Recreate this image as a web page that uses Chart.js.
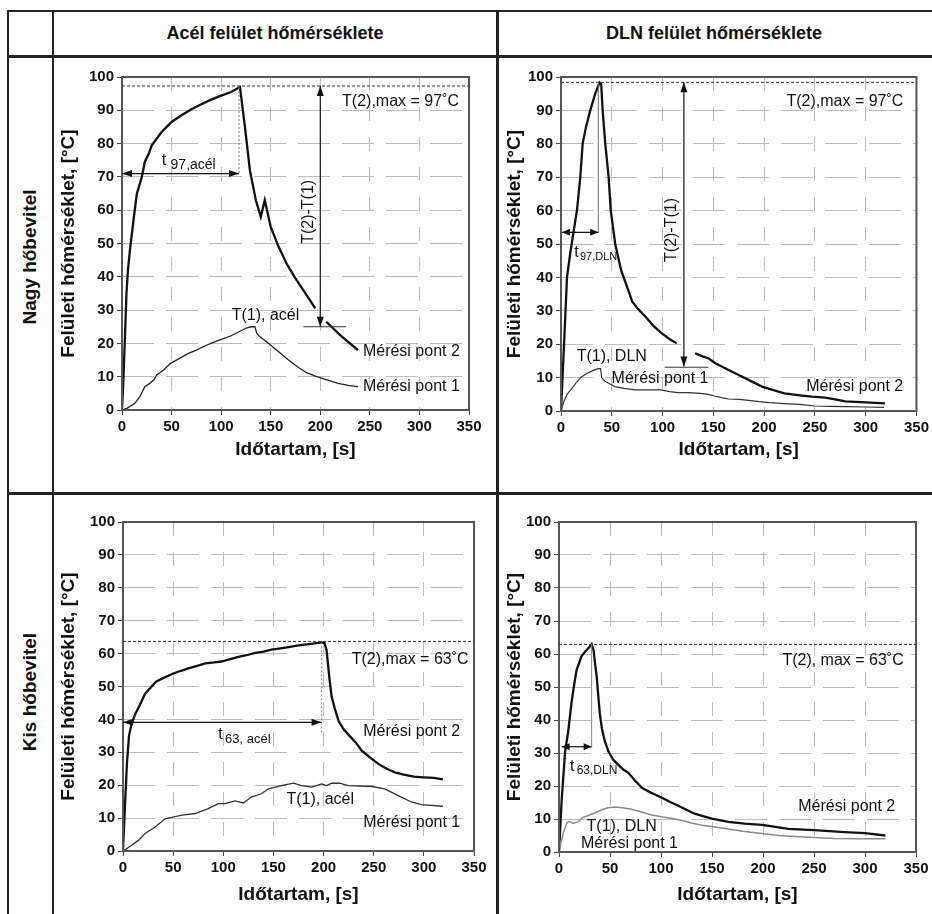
<!DOCTYPE html>
<html><head><meta charset="utf-8">
<script src="https://cdn.jsdelivr.net/npm/chart.js@4.4.1/dist/chart.umd.min.js"></script>
<style>
body{margin:0;background:#fff;}
#wrap{position:relative;width:932px;height:914px;overflow:hidden;font-family:'Liberation Sans',Arial,sans-serif;color:#111;}
.ln{position:absolute;background:#222;}
.hdr{position:absolute;font-weight:bold;font-size:18px;white-space:nowrap;transform:translate(-50%,-50%);}
.side{position:absolute;font-weight:bold;font-size:19px;white-space:nowrap;transform:translate(-50%,-50%) rotate(-90deg);}
canvas{position:absolute;}
</style></head>
<body>
<div id="wrap">
  <div class="ln" style="left:7px;top:10px;width:925px;height:2px"></div>
  <div class="ln" style="left:7px;top:55px;width:925px;height:3px"></div>
  <div class="ln" style="left:7px;top:492px;width:925px;height:3px"></div>
  <div class="ln" style="left:7px;top:10px;width:2px;height:904px"></div>
  <div class="ln" style="left:52px;top:10px;width:2px;height:904px"></div>
  <div class="ln" style="left:496px;top:10px;width:3px;height:904px"></div>
  <div class="hdr" style="left:275px;top:33px">Acél felület hőmérséklete</div>
  <div class="hdr" style="left:714px;top:33px">DLN felület hőmérséklete</div>
  <div class="side" style="left:30px;top:257px">Nagy hőbevitel</div>
  <div class="side" style="left:30px;top:692px">Kis hőbevitel</div>
  <canvas id="c1" width="442" height="435" style="left:55px;top:58px"></canvas>
  <canvas id="c2" width="433" height="435" style="left:499px;top:58px"></canvas>
  <canvas id="c3" width="442" height="418" style="left:55px;top:496px"></canvas>
  <canvas id="c4" width="433" height="418" style="left:499px;top:496px"></canvas>
</div>
<script>
// ---------------- DATA (time [s], temperature [°C]) ----------------
const xTicks = [0, 50, 100, 150, 200, 250, 300, 350];
const yTicks = [0, 10, 20, 30, 40, 50, 60, 70, 80, 90, 100];
const seriesNames = ['Mérési pont 1', 'Mérési pont 2'];

// Acél, Nagy hőbevitel
const acelNagyP2 = [[0,0],[1.5,10],[3,22],[4.5,35],[6,42],[8,48],[10,53],[12,58],[15,65],[20,70],[23,74.5],[27,77],[30,79.5],[40,83.5],[50,86.5],[60,88.5],[70,90.3],[80,91.8],[90,93.2],[100,94.4],[110,95.5],[116,96.5],[119,97],[124,85],[129,72],[135,63],[140,58],[144,63],[150,55],[158,49],[166,44],[174,40],[184,35.5],[195,30.5],[200,null],[206,26.5],[220,22.5],[238,18]];
const acelNagyP1 = [[0,0],[5,0.5],[13,2],[18,4],[23,7],[28,8],[32,9],[35,10.5],[42,12],[49,14],[58,15.5],[67,17],[75,18],[84,19.3],[92,20.3],[101,21.3],[110,22.3],[118,23.5],[126,24.7],[130,25],[134,25],[136,23],[138,22.3],[148,20],[158,17.5],[168,15],[177,13],[186,11.2],[195,10.2],[205,9.2],[218,8],[228,7.4],[238,7]];

// DLN, Nagy hőbevitel
const dlnNagyP2 = [[0,0],[3,20],[5.9,40],[9,47],[12,53],[15.7,60],[19,70],[21.3,80],[24.6,85],[28.8,90],[33.7,95],[38,98.3],[39.6,97.8],[41,90],[43.6,80],[46.9,70],[49,60],[53.4,50],[59.3,42],[66.5,36],[70,32.8],[76,30.5],[83,28.3],[91,25.5],[99,23.3],[107,21.5],[114,20.3],[120,null],[132,17.3],[140,16.3],[145,15.8],[152,14.3],[165,12.3],[178,10.3],[190,8.5],[198,7.3],[210,6.2],[220,5.3],[235,4.7],[247,4.3],[260,4],[270,3.5],[280,2.9],[300,2.6],[319,2.3]];
const dlnNagyP1 = [[0,0],[3,3],[6,5],[10,6.5],[15,8.5],[20,10.2],[27,11.5],[33,12.3],[37,12.7],[39,12.7],[40,10],[43,9],[47,8.3],[53,7.3],[62,6.8],[73,6.3],[85,6.3],[98,6.3],[107,5.8],[115,5.5],[125,5.5],[137,5.3],[145,5],[151,4.5],[158,4],[165,3.6],[175,3.5],[185,3.2],[195,2.8],[205,2.5],[220,2.2],[235,2],[250,1.5],[265,1.4],[280,1.3],[300,1.2],[318,1.1]];

// Acél, Kis hőbevitel
const acelKisP2 = [[0,0],[2,14],[4,27],[6,35],[8,38],[12,41.5],[17,44.5],[22,47.8],[27,49.5],[33,51.5],[39,52.4],[49,53.8],[57,54.7],[65,55.5],[74,56.3],[82,57],[91,57.3],[98,57.6],[107,58.3],[115,59],[123,59.5],[132,60.2],[140,60.6],[148,61.2],[157,61.6],[165,62],[175,62.5],[185,62.9],[193,63.2],[198,63.4],[201,63.2],[203,61],[204,58],[206,52],[208,47],[211,43.5],[215,39.5],[220,37],[225,35.3],[232,33],[238,30.5],[246,28.5],[255,26.4],[263,25],[271,23.9],[280,23.2],[290,22.6],[300,22.4],[310,22.2],[319,21.8]];
const acelKisP1 = [[0,0],[9,1.8],[15.6,3.3],[22,5.3],[32,7.3],[42,9.8],[58.7,10.9],[72,11.4],[85,12.9],[95,14.4],[102,14.4],[112,15.2],[120,14.6],[128,16.4],[138,17.4],[145,18.9],[158,19.9],[170,20.6],[178,19.9],[188,19.4],[198,20.4],[203,19.9],[208,20.6],[216,20.6],[224.6,19.9],[248,19.6],[261,18.9],[274,16.9],[287.6,14.9],[297.6,14.1],[319,13.6]];

// DLN, Kis hőbevitel
const dlnKisP2 = [[0,0],[2.6,15.6],[6,30.5],[9,36.5],[12.4,45.5],[15,51],[17.3,55.2],[20,57.5],[22,59.3],[26,60.8],[30,62.2],[32,63],[34,61],[35.3,57.2],[37,53],[38.6,47],[40,42],[42,37.5],[45,33.5],[48.4,30.5],[53,28],[58,26.5],[63,25],[68,24],[74,21.8],[81,19.5],[90,18],[100,16.6],[108,15.3],[117,14],[125,12.8],[133,11.6],[142,10.8],[150,10.1],[166,9.1],[182,8.6],[199,8.2],[225,7],[250,6.6],[280,6],[300,5.7],[320,5]];
const dlnKisP1 = [[0,0],[4,5.6],[8,9],[10,9.2],[14,8.7],[19,9.2],[23,10.4],[28,11],[35,11.8],[42,12.8],[48,13.4],[55,13.6],[62,13.4],[70,13],[80,12.2],[90,11.3],[100,10.7],[110,10.2],[120,9.6],[130,8.8],[140,8.1],[153,7.6],[166,7],[180,6.3],[199,5.6],[215,5],[231,4.7],[250,4.4],[270,4.1],[295,4],[320,4]];

// ---------------- RENDERING ----------------
const FONT = "'Liberation Sans', Arial, sans-serif";
Chart.defaults.font.family = FONT;
Chart.defaults.color = '#111';

const toXY = arr => arr.map(p => ({x: p[0], y: p[1]}));

function arrowHead(ctx, x, y, ang, len, half) {
  ctx.beginPath();
  ctx.moveTo(x, y);
  ctx.lineTo(x - len * Math.cos(ang) + half * Math.sin(ang), y - len * Math.sin(ang) - half * Math.cos(ang));
  ctx.lineTo(x - len * Math.cos(ang) - half * Math.sin(ang), y - len * Math.sin(ang) + half * Math.cos(ang));
  ctx.closePath();
  ctx.fill();
}

const annotPlugin = {
  id: 'annot',
  afterDraw(chart, args, opts) {
    const {ctx, chartArea: a, scales: {x, y}} = chart;
    const px = v => x.getPixelForValue(v), py = v => y.getPixelForValue(v);
    ctx.save();
    ctx.strokeStyle = '#555'; ctx.lineWidth = 2; ctx.setLineDash([]);
    ctx.strokeRect(a.left, a.top, a.right - a.left, a.bottom - a.top);
    for (const it of (opts.items || [])) {
      ctx.save();
      if (it.t === 'line') {
        ctx.strokeStyle = it.color || '#222'; ctx.lineWidth = it.w || 1; ctx.setLineDash(it.dash || []);
        ctx.beginPath(); ctx.moveTo(px(it.x1), py(it.y1)); ctx.lineTo(px(it.x2), py(it.y2)); ctx.stroke();
      } else if (it.t === 'arrow') {
        const x1 = px(it.x1), y1 = py(it.y1), x2 = px(it.x2), y2 = py(it.y2);
        ctx.strokeStyle = '#111'; ctx.fillStyle = '#111'; ctx.lineWidth = 1.2;
        ctx.beginPath(); ctx.moveTo(x1, y1); ctx.lineTo(x2, y2); ctx.stroke();
        const ang = Math.atan2(y2 - y1, x2 - x1);
        const L = it.len || 10, H = it.half || 3.5;
        arrowHead(ctx, x2, y2, ang, L, H);
        arrowHead(ctx, x1, y1, ang + Math.PI, L, H);
      } else if (it.t === 'text') {
        ctx.fillStyle = it.color || '#111';
        ctx.font = (it.bold ? 'bold ' : '') + (it.size || 16) + 'px ' + FONT;
        ctx.textBaseline = 'middle';
        ctx.textAlign = it.align || 'left';
        ctx.translate(px(it.x), py(it.y));
        if (it.rot) ctx.rotate(it.rot * Math.PI / 180);
        ctx.fillText(it.text, 0, 0);
      }
      ctx.restore();
    }
    ctx.restore();
  }
};

function makeChart(id, rect, plot, yTitleX, xTitleY, sets, items) {
  const tSize = 19;
  const lh = tSize * 1.2;
  const padLeft = yTitleX - rect.l - lh / 2;
  const yW = plot.L - rect.l - padLeft;
  const padTop = plot.T - rect.t;
  const padRight = rect.l + rect.w - plot.R;
  const xH = xTitleY + lh / 2 - plot.B;
  const padBottom = rect.t + rect.h - (xTitleY + lh / 2);
  const tickFont = {size: 15, weight: 'bold'};
  const titleFont = {size: tSize, weight: 'bold', lineHeight: 1.2};
  return new Chart(document.getElementById(id), {
    type: 'line',
    data: {
      datasets: sets.map(s => ({
        label: s.label, data: toXY(s.data), borderColor: s.color, borderWidth: s.width,
        pointRadius: 0, tension: 0, fill: false, spanGaps: false
      }))
    },
    options: {
      responsive: false, animation: false, devicePixelRatio: 1,
      layout: {padding: {left: padLeft, top: padTop, right: padRight, bottom: padBottom}},
      plugins: {legend: {display: false}, tooltip: {enabled: false}, annot: {items}},
      scales: {
        x: {
          type: 'linear', min: xTicks[0], max: xTicks[xTicks.length - 1],
          afterBuildTicks: s => { s.ticks = xTicks.map(v => ({value: v})); },
          afterFit: s => { s.height = xH; },
          ticks: {font: tickFont, color: '#111', padding: 3, maxRotation: 0},
          grid: {color: '#bdbdbd', lineWidth: 1, tickColor: '#444', tickLength: 5},
          border: {display: false, dash: [14, 16]},
          title: {display: true, text: 'Időtartam, [s]', font: titleFont, color: '#111', padding: 0}
        },
        y: {
          type: 'linear', min: yTicks[0], max: yTicks[yTicks.length - 1],
          afterBuildTicks: s => { s.ticks = yTicks.map(v => ({value: v})); },
          afterFit: s => { s.width = yW; },
          ticks: {font: tickFont, color: '#111', padding: 3},
          grid: {color: '#bdbdbd', lineWidth: 1, tickColor: '#444', tickLength: 5},
          border: {display: false, dash: [32, 12]},
          title: {display: true, text: 'Felületi hőmérséklet, [°C]', font: titleFont, color: '#111', padding: 0}
        }
      }
    },
    plugins: [annotPlugin]
  });
}

const dash = {color: '#333', w: 1, dash: [3, 2]};

makeChart('c1', {l: 55, t: 58, w: 442, h: 435}, {L: 122, T: 77, R: 469, B: 410}, 69, 450,
  [{label: seriesNames[0], data: acelNagyP1, color: '#222', width: 1.3},
   {label: seriesNames[1], data: acelNagyP2, color: '#111', width: 2.3}],
  [
    {t: 'line', x1: 0, y1: 97.3, x2: 350, y2: 97.3, ...dash},
    {t: 'line', x1: 118, y1: 97, x2: 118, y2: 71, color: '#777', w: 1, dash: [2, 2]},
    {t: 'arrow', x1: 0, y1: 71, x2: 118, y2: 71},
    {t: 'arrow', x1: 200, y1: 25, x2: 200, y2: 97.3},
    {t: 'line', x1: 183, y1: 25, x2: 226, y2: 25, color: '#333', w: 1},
    {t: 'text', x: 188, y: 59.5, text: 'T(2)-T(1)', rot: -90, align: 'center'},
    {t: 'text', x: 222, y: 92.6, text: 'T(2),max = 97˚C'},
    {t: 'text', x: 40, y: 75, text: 't'},
    {t: 'text', x: 49, y: 73.6, text: '97,acél', size: 14},
    {t: 'text', x: 110.7, y: 28.5, text: 'T(1), acél'},
    {t: 'text', x: 243, y: 17.5, text: 'Mérési pont 2'},
    {t: 'text', x: 243, y: 7, text: 'Mérési pont 1'}
  ]);

makeChart('c2', {l: 499, t: 58, w: 433, h: 435}, {L: 561, T: 77, R: 917, B: 411}, 515, 450,
  [{label: seriesNames[0], data: dlnNagyP1, color: '#333', width: 1.2},
   {label: seriesNames[1], data: dlnNagyP2, color: '#111', width: 2.3}],
  [
    {t: 'line', x1: 0, y1: 98.4, x2: 350, y2: 98.4, ...dash},
    {t: 'line', x1: 36.7, y1: 98.3, x2: 36.7, y2: 53.5, color: '#666', w: 1},
    {t: 'arrow', x1: 1, y1: 53.5, x2: 36.7, y2: 53.5, len: 8},
    {t: 'arrow', x1: 121, y1: 13.3, x2: 121, y2: 98.4},
    {t: 'line', x1: 102, y1: 13.1, x2: 145, y2: 13.1, color: '#333', w: 1},
    {t: 'text', x: 108.8, y: 54.2, text: 'T(2)-T(1)', rot: -90, align: 'center'},
    {t: 'text', x: 222, y: 92.6, text: 'T(2),max = 97˚C'},
    {t: 'text', x: 13, y: 47.4, text: 't'},
    {t: 'text', x: 18.7, y: 46.2, text: '97,DLN', size: 11},
    {t: 'text', x: 15.4, y: 16.3, text: 'T(1), DLN'},
    {t: 'text', x: 49.8, y: 9.8, text: 'Mérési pont 1'},
    {t: 'text', x: 241.5, y: 7.3, text: 'Mérési pont 2'}
  ]);

makeChart('c3', {l: 55, t: 496, w: 442, h: 418}, {L: 123, T: 522, R: 474, B: 851}, 69, 895,
  [{label: seriesNames[0], data: acelKisP1, color: '#333', width: 1.3},
   {label: seriesNames[1], data: acelKisP2, color: '#111', width: 2.3}],
  [
    {t: 'line', x1: 0, y1: 63.7, x2: 350, y2: 63.7, ...dash},
    {t: 'line', x1: 198, y1: 63.4, x2: 198, y2: 35.8, color: '#888', w: 1, dash: [2, 2]},
    {t: 'arrow', x1: 0, y1: 39.1, x2: 198, y2: 39.1},
    {t: 'text', x: 95, y: 35.3, text: 't'},
    {t: 'text', x: 101.7, y: 33.9, text: '63, acél', size: 13},
    {t: 'text', x: 228, y: 58.3, text: 'T(2),max = 63˚C'},
    {t: 'text', x: 239.6, y: 36.3, text: 'Mérési pont 2'},
    {t: 'text', x: 163, y: 15.5, text: 'T(1), acél'},
    {t: 'text', x: 239.6, y: 8.6, text: 'Mérési pont 1'}
  ]);

makeChart('c4', {l: 499, t: 496, w: 433, h: 418}, {L: 559, T: 522, R: 916, B: 852}, 515, 895,
  [{label: seriesNames[0], data: dlnKisP1, color: '#8a8a8a', width: 1.5},
   {label: seriesNames[1], data: dlnKisP2, color: '#111', width: 2.3}],
  [
    {t: 'line', x1: 0, y1: 62.9, x2: 350, y2: 62.9, ...dash},
    {t: 'line', x1: 32, y1: 62.9, x2: 32, y2: 31.9, color: '#888', w: 1},
    {t: 'arrow', x1: 2.6, y1: 31.9, x2: 32, y2: 31.9, len: 8},
    {t: 'text', x: 10.8, y: 25.8, text: 't'},
    {t: 'text', x: 17.3, y: 24.5, text: '63,DLN', size: 12},
    {t: 'text', x: 219, y: 57.9, text: 'T(2), max = 63˚C'},
    {t: 'text', x: 234.6, y: 13.7, text: 'Mérési pont 2'},
    {t: 'text', x: 27, y: 7.7, text: 'T(1), DLN'},
    {t: 'text', x: 21.6, y: 2.4, text: 'Mérési pont 1'}
  ]);
</script>
</body></html>
